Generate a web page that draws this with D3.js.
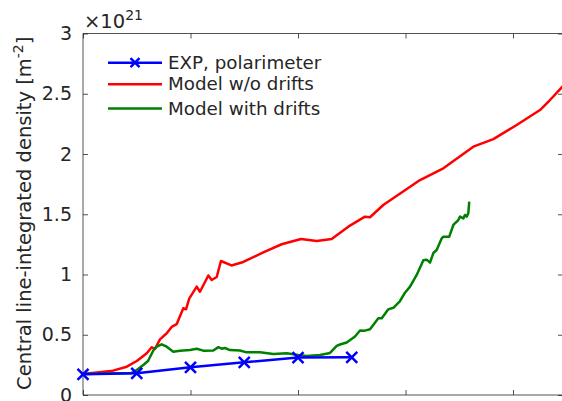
<!DOCTYPE html>
<html>
<head>
<meta charset="utf-8">
<script src="https://cdn.jsdelivr.net/npm/d3@7"></script>
<style>
  html, body { margin: 0; padding: 0; background: #fff; }
  svg { display: block; }
  text { font-family: "DejaVu Sans", sans-serif; fill: #262626; }
</style>
</head>
<body>
<svg id="chart" width="562" height="401"></svg>
<script>
// Central line-integrated density, in units of 1e21 m^-2
const expX = [0, 0.5, 1.0, 1.5, 2.0, 2.5];
const expY = [0.172, 0.180, 0.230, 0.271, 0.311, 0.313];

const noDriftX = [0, 0.279, 0.407, 0.5, 0.546, 0.593, 0.639, 0.670, 0.716, 0.779, 0.828, 0.872,
  0.933, 0.958, 0.989, 1.058, 1.088, 1.166, 1.197, 1.244, 1.283, 1.381, 1.491, 1.677, 1.848,
  2.028, 2.174, 2.313, 2.468, 2.623, 2.670, 2.793, 3.135, 3.352, 3.631, 3.817, 4.034, 4.251,
  4.344, 4.47];
const noDriftY = [0.174, 0.202, 0.235, 0.282, 0.313, 0.346, 0.396, 0.384, 0.462, 0.512, 0.568, 0.589,
  0.720, 0.711, 0.802, 0.899, 0.857, 0.992, 0.954, 0.979, 1.112, 1.075, 1.104, 1.184, 1.251,
  1.295, 1.278, 1.295, 1.397, 1.480, 1.475, 1.577, 1.784, 1.881, 2.061, 2.124, 2.241, 2.365,
  2.448, 2.568];

const driftX = [0, 0.453, 0.5, 0.561, 0.605, 0.654, 0.686, 0.732, 0.779, 0.840, 0.902, 0.995,
  1.058, 1.119, 1.212, 1.259, 1.290, 1.321, 1.367, 1.460, 1.523, 1.647, 1.770, 1.895, 2.003,
  2.081, 2.205, 2.298, 2.360, 2.391, 2.453, 2.530, 2.577, 2.623, 2.670, 2.747, 2.779, 2.840,
  2.887, 2.949, 2.995, 3.042, 3.104, 3.166, 3.197, 3.228, 3.259, 3.290, 3.337, 3.352, 3.407,
  3.445, 3.491, 3.507, 3.538, 3.553, 3.569, 3.584, 3.593];
const driftY = [0.174, 0.183, 0.207, 0.249, 0.282, 0.369, 0.401, 0.421, 0.401, 0.359, 0.368, 0.373,
  0.384, 0.368, 0.369, 0.397, 0.384, 0.390, 0.373, 0.369, 0.354, 0.354, 0.340, 0.346, 0.332,
  0.324, 0.332, 0.349, 0.407, 0.419, 0.436, 0.485, 0.535, 0.534, 0.545, 0.637, 0.637, 0.711,
  0.724, 0.780, 0.849, 0.899, 0.996, 1.118, 1.123, 1.098, 1.178, 1.203, 1.300, 1.314, 1.314,
  1.411, 1.452, 1.480, 1.466, 1.494, 1.480, 1.508, 1.604];

const yTicks = [0, 0.5, 1, 1.5, 2, 2.5, 3];
const yTickLabels = ["0", "0.5", "1", "1.5", "2", "2.5", "3"];
const xTicks = [0, 1, 2, 3, 4];

const legendNames = ["EXP, polarimeter", "Model w/o drifts", "Model with drifts"];
const seriesColors = ["#0000ff", "#ff0000", "#008000"];

const svg = d3.select("#chart");
const plot = { left: 83, right: 563, top: 33.5, bottom: 395 };

const x = d3.scaleLinear().domain([0, 4.465]).range([plot.left, plot.right]);
const y = d3.scaleLinear().domain([0, 3]).range([plot.bottom, plot.top]);

const axisColor = "#262626";
const axisFont = 19.5;
const lineWidth = 2.5;

// Axes box with inward ticks
const gBottom = svg.append("g").attr("transform", `translate(0,${plot.bottom})`)
  .call(d3.axisBottom(x).tickValues(xTicks).tickSize(-5).tickFormat(""));
const gTop = svg.append("g").attr("transform", `translate(0,${plot.top})`)
  .call(d3.axisTop(x).tickValues(xTicks).tickSize(-5).tickFormat(""));
const gLeft = svg.append("g").attr("transform", `translate(${plot.left},0)`)
  .call(d3.axisLeft(y).tickValues(yTicks).tickSize(-5).tickPadding(11)
    .tickFormat((d, i) => yTickLabels[i]));
const gRight = svg.append("g").attr("transform", `translate(${plot.right},0)`)
  .call(d3.axisRight(y).tickValues(yTicks).tickSize(-5).tickFormat(""));

[gBottom, gTop, gLeft, gRight].forEach(g => {
  g.select(".domain").attr("stroke", axisColor).attr("stroke-width", 0.8)
    .attr("d", g === gBottom || g === gTop
      ? `M${plot.left},0H${plot.right}`
      : `M0,${plot.top}V${plot.bottom}`);
  g.selectAll(".tick line").attr("stroke", axisColor).attr("stroke-width", 0.8);
});
gLeft.selectAll(".tick text")
  .attr("font-family", "DejaVu Sans, sans-serif")
  .attr("font-size", 19).attr("fill", axisColor);

// Exponent label
const expo = svg.append("text").attr("x", 84).attr("y", 28)
  .attr("font-size", axisFont);
expo.append("tspan").text("×10");
expo.append("tspan").attr("font-size", 14).attr("dy", -8).text("21");

// Y axis title
const yTitle = svg.append("text")
  .attr("transform", `translate(31,${(plot.top + plot.bottom) / 2 - 1}) rotate(-90)`)
  .attr("text-anchor", "middle").attr("font-size", axisFont);
yTitle.append("tspan").text("Central line-integrated density [m");
yTitle.append("tspan").attr("font-size", 14).attr("dy", -8).text("-2");
yTitle.append("tspan").attr("dy", 8).text("]");

// Series
const line = d3.line().x(d => x(d[0])).y(d => y(d[1]));
svg.append("clipPath").attr("id", "plotclip").append("rect")
  .attr("x", plot.left - 8).attr("y", plot.top)
  .attr("width", plot.right - plot.left + 8).attr("height", plot.bottom - plot.top);

const series = [
  { xs: expX, ys: expY, color: seriesColors[0], marker: true },
  { xs: noDriftX, ys: noDriftY, color: seriesColors[1], marker: false },
  { xs: driftX, ys: driftY, color: seriesColors[2], marker: false }
];

const gSeries = svg.append("g").attr("clip-path", "url(#plotclip)");
// draw red, green, then blue on top
[1, 2, 0].forEach(i => {
  const s = series[i];
  const pts = s.xs.map((v, k) => [v, s.ys[k]]);
  gSeries.append("path").datum(pts)
    .attr("d", line).attr("fill", "none")
    .attr("stroke", s.color).attr("stroke-width", lineWidth)
    .attr("stroke-linejoin", "round");
  if (s.marker) {
    const m = 5.5;
    gSeries.selectAll(null).data(pts).enter().append("path")
      .attr("d", d => {
        const px = x(d[0]), py = y(d[1]);
        return `M${px - m},${py - m}L${px + m},${py + m}M${px - m},${py + m}L${px + m},${py - m}`;
      })
      .attr("stroke", s.color).attr("stroke-width", lineWidth).attr("fill", "none");
  }
});

// Legend
const legend = svg.append("g");
const legY = [62.7, 84.3, 108.5];
legendNames.forEach((name, i) => {
  const ly = legY[i];
  legend.append("line").attr("x1", 108).attr("x2", 162).attr("y1", ly).attr("y2", ly)
    .attr("stroke", seriesColors[i]).attr("stroke-width", lineWidth);
  if (i === 0) {
    const cx = 135, m = 4.5;
    legend.append("path")
      .attr("d", `M${cx - m},${ly - m}L${cx + m},${ly + m}M${cx - m},${ly + m}L${cx + m},${ly - m}`)
      .attr("stroke", seriesColors[i]).attr("stroke-width", lineWidth);
  }
  legend.append("text").attr("x", 168).attr("y", ly + 6)
    .attr("font-size", 18.3).text(name);
});
</script>
</body>
</html>
